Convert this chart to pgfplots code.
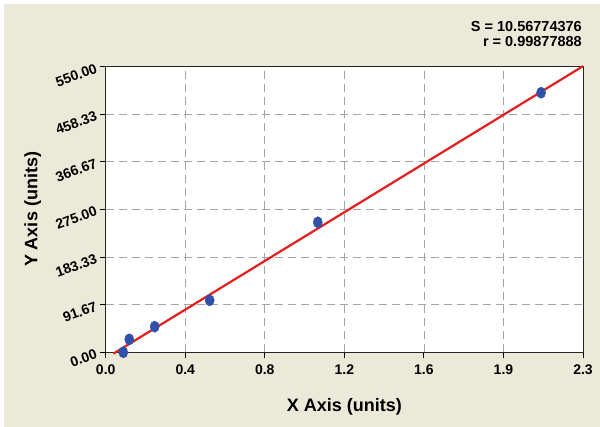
\documentclass[border=0pt]{standalone}
\usepackage{fontspec}
\setmainfont{Liberation Sans}
\usepackage{pgfplots}
\pgfplotsset{compat=1.18}
\definecolor{bgbeige}{RGB}{235,233,216}
\definecolor{ptblue}{RGB}{48,80,170}
\definecolor{fitred}{RGB}{228,30,30}
\definecolor{gridgray}{RGB}{165,165,165}
\begin{document}
\begin{tikzpicture}[x=1pt,y=1pt]
\useasboundingbox (0,0) rectangle (600,427);
\fill[white] (0,0) rectangle (600,427);
\fill[bgbeige] (4,0) rectangle (600,423);
\begin{axis}[
  at={(105.7pt,74.7pt)}, anchor=south west,
  scale only axis, width=477.3pt, height=285.6pt,
  xmin=0, xmax=2.3, ymin=0, ymax=550,
  clip=false,
  axis background/.style={fill=white},
  axis line style={draw=black!85, line width=1pt},
  xtick={0,0.383333,0.766667,1.15,1.533333,1.916667,2.3},
  xticklabels={0.0,0.4,0.8,1.2,1.6,1.9,2.3},
  ytick={0,91.6667,183.3333,275,366.6667,458.3333,550},
  yticklabels={0.00,91.67,183.33,275.00,366.67,458.33,550.00},
  minor tick num=3,
  xtick pos=lower, ytick pos=left,
  tick align=outside,
  major tick length=6pt, minor tick length=6pt,
  every tick/.style={black, line width=0.9pt},
  grid=major,
  major grid style={gridgray, line width=0.8pt, dash pattern=on 8pt off 5pt},
  x tick label style={font=\fontsize{14}{15}\selectfont\bfseries, yshift=-3pt},
  y tick label style={font=\fontsize{14}{15}\selectfont\bfseries, rotate=20, anchor=east},
  xlabel={X Axis (units)},
  ylabel={Y Axis (units)},
  xlabel style={font=\fontsize{18}{20}\selectfont\bfseries, at={([yshift=-55pt]axis description cs:0.5,0)}, anchor=center},
  ylabel style={font=\fontsize{18}{20}\selectfont\bfseries, at={([xshift=-73pt]axis description cs:0,0.5)}, anchor=center},
]
\addplot[only marks, mark=*, mark size=5.6pt, mark options={fill=ptblue, draw=ptblue, xscale=0.82}]
  coordinates {(0.0848,0) (0.1137,25) (0.236,49.3) (0.501,100.1) (1.022,250.3) (2.098,499.9)};
\addplot[fitred, line width=2.2pt] coordinates {(0.037,-2.6) (2.3,551)};
\end{axis}
\node[anchor=base east, font=\fontsize{14.5}{16}\selectfont\bfseries, inner sep=0] at (582,395.5) {S = 10.56774376};
\node[anchor=base east, font=\fontsize{14.5}{16}\selectfont\bfseries, inner sep=0] at (582,380) {r = 0.99877888};
\end{tikzpicture}
\end{document}
